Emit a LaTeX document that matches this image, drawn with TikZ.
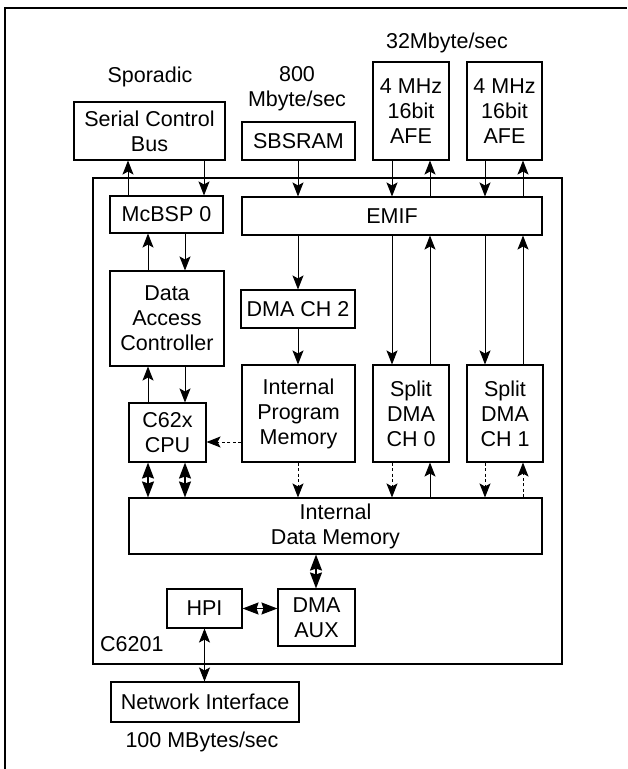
\documentclass[tikz,border=0pt]{standalone}
\usepackage{fontspec}
\setmainfont{Liberation Sans}
\usepackage{tikz}
\usetikzlibrary{arrows.meta, positioning, calc}

\begin{document}
\begin{tikzpicture}[
  x=1pt, y=-1pt,
  font=\fontsize{21.5}{25}\selectfont,
  every node/.style={align=center},
  box/.style={draw, line width=1.1pt, inner sep=0pt, fill=white},
  flow/.style={-{Stealth[length=14pt, width=11pt, inset=3pt]}, line width=0.9pt},
  dflow/.style={flow, dash pattern=on 3pt off 2.5pt},
  biflow/.style={{Stealth[length=16pt, width=12pt, inset=2pt]}-{Stealth[length=16pt, width=12pt, inset=2pt]}, line width=1.6pt},
  thinbi/.style={{Stealth[length=14pt, width=11pt, inset=3pt]}-{Stealth[length=14pt, width=11pt, inset=3pt]}, line width=0.9pt},
  note/.style={inner sep=0pt}
]
\useasboundingbox (0,0) rectangle (627,769);
\draw[line width=1.3pt] (5,769) -- (5,8) -- (627,8);

\node[box, fill=none, minimum width=469pt, minimum height=486pt] (chip) at (327.5,421) {};
\node[note, anchor=base west] (chipname) at (100,651) {C6201};

\node[box, minimum width=151pt, minimum height=58pt] (scb) at (149.5,131) {Serial Control\\Bus};
\node[box, minimum width=113pt, minimum height=38pt] (sbsram) at (298.5,141) {SBSRAM};
\node[box, minimum width=76pt, minimum height=98pt] (afeA) at (411,111) {4 MHz\\16bit\\AFE};
\node[box, minimum width=75pt, minimum height=98pt] (afeB) at (504.5,111) {4 MHz\\16bit\\AFE};

\node[note] (sporadic) at (150,77) {Sporadic};
\node[note] (rate800) at (297,89) {800\\Mbyte/sec};
\node[note] (rate32) at (447,43) {32Mbyte/sec};

\node[box, minimum width=113pt, minimum height=37pt] (mcbsp) at (166.5,214.5) {McBSP 0};
\node[box, minimum width=300pt, minimum height=38pt] (emif) at (392,216) {EMIF};
\node[box, minimum width=114pt, minimum height=95pt] (dac) at (167,318.5) {Data\\Access\\Controller};
\node[box, minimum width=114pt, minimum height=38pt] (dmach2) at (298,309) {DMA CH 2};
\node[box, minimum width=77pt, minimum height=59pt] (cpu) at (167.5,432.5) {C62x\\CPU};
\node[box, minimum width=113pt, minimum height=97pt] (ipm) at (298.5,413.5) {Internal\\Program\\Memory};
\node[box, minimum width=76pt, minimum height=97pt] (sdma0) at (411,413.5) {Split\\DMA\\CH 0};
\node[box, minimum width=76pt, minimum height=97pt] (sdma1) at (505,413.5) {Split\\DMA\\CH 1};
\node[box, minimum width=413pt, minimum height=56pt] (idm) at (335.5,526) {Internal\\Data Memory};
\node[box, minimum width=75pt, minimum height=39pt] (hpi) at (204.5,608.5) {HPI};
\node[box, minimum width=77pt, minimum height=57pt] (dmaaux) at (316.5,617.5) {DMA\\AUX};
\node[box, minimum width=188pt, minimum height=40pt] (netif) at (205,702) {Network Interface};
\node[note] (rate100) at (202,742) {100 MBytes/sec};

\coordinate (sup) at (128,0);
\coordinate (sdn) at (204,0);
\coordinate (cup) at (148,0);
\coordinate (cdn) at (185,0);
\coordinate (mid) at (298,0);
\coordinate (aDn) at (392,0);
\coordinate (aUp) at (430,0);
\coordinate (bDn) at (485,0);
\coordinate (bUp) at (523,0);
\coordinate (aux) at (316,0);
\coordinate (fetch) at (0,442);

\draw[flow] (mcbsp.north -| sup) -- (scb.south -| sup);
\draw[flow] (scb.south -| sdn) -- (mcbsp.north -| sdn);
\draw[flow] (sbsram.south -| mid) -- (emif.north -| mid);
\draw[flow] (afeA.south -| aDn) -- (emif.north -| aDn);
\draw[flow] (emif.north -| aUp) -- (afeA.south -| aUp);
\draw[flow] (afeB.south -| bDn) -- (emif.north -| bDn);
\draw[flow] (emif.north -| bUp) -- (afeB.south -| bUp);

\draw[flow] (dac.north -| cup) -- (mcbsp.south -| cup);
\draw[flow] (mcbsp.south -| cdn) -- (dac.north -| cdn);
\draw[flow] (cpu.north -| cup) -- (dac.south -| cup);
\draw[flow] (dac.south -| cdn) -- (cpu.north -| cdn);

\draw[flow] (emif.south -| mid) -- (dmach2.north -| mid);
\draw[flow] (dmach2.south -| mid) -- (ipm.north -| mid);
\draw[flow] (emif.south -| aDn) -- (sdma0.north -| aDn);
\draw[flow] (sdma0.north -| aUp) -- (emif.south -| aUp);
\draw[flow] (emif.south -| bDn) -- (sdma1.north -| bDn);
\draw[flow] (sdma1.north -| bUp) -- (emif.south -| bUp);

\draw[dflow] (ipm.west |- fetch) -- (cpu.east |- fetch);
\draw[dflow] (ipm.south -| mid) -- (idm.north -| mid);
\draw[dflow] (sdma0.south -| aDn) -- (idm.north -| aDn);
\draw[flow] (idm.north -| aUp) -- (sdma0.south -| aUp);
\draw[dflow] (sdma1.south -| bDn) -- (idm.north -| bDn);
\draw[dflow] (idm.north -| bUp) -- (sdma1.south -| bUp);

\draw[biflow] (cpu.south -| cup) -- (idm.north -| cup);
\draw[biflow] (cpu.south -| cdn) -- (idm.north -| cdn);
\draw[biflow] (idm.south -| aux) -- (dmaaux.north -| aux);
\draw[biflow] (hpi.east) -- (hpi.east -| dmaaux.west);
\draw[thinbi] (hpi.south) -- (hpi.south |- netif.north);

\end{tikzpicture}
\end{document}
